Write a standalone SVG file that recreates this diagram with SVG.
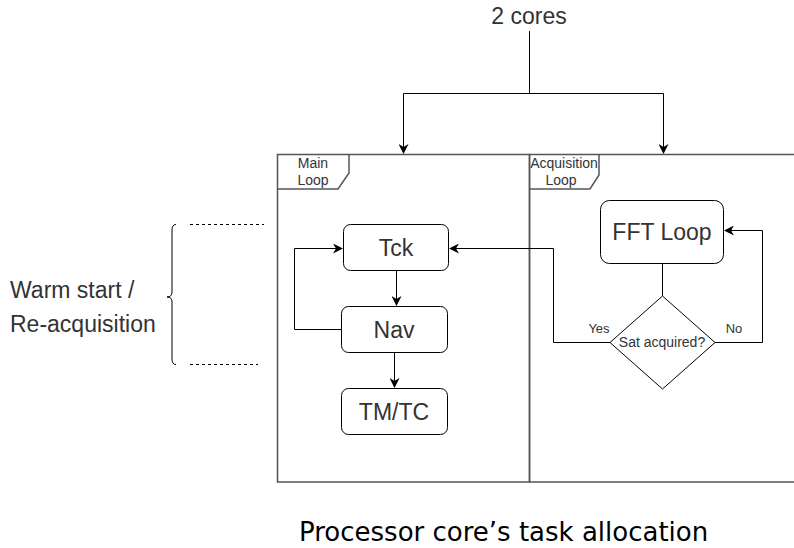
<svg xmlns="http://www.w3.org/2000/svg" width="794" height="548" viewBox="0 0 794 548">
  <defs>
    <marker id="arrow" viewBox="0 0 10 10" refX="9" refY="5" markerWidth="10" markerHeight="10" markerUnits="userSpaceOnUse" orient="auto">
      <path d="M0,0 L10,5 L0,10 L3,5 Z" fill="#000"/>
    </marker>
    <style>
      text { font-family: "Liberation Sans", Arial, sans-serif; fill: #333; }
      .big { font-size: 23px; }
      .tab { font-size: 14px; }
      .small { font-size: 13px; }
      .cap { font-family: "DejaVu Sans", Verdana, sans-serif; font-size: 26px; fill: #000; }
      .frame { fill: none; stroke: #555; stroke-width: 1.5; }
      .box { fill: #fff; stroke: #000; stroke-width: 1; }
      .wire { fill: none; stroke: #000; stroke-width: 1; }
      .dash { fill: none; stroke: #000; stroke-width: 1; stroke-dasharray: 3 3; }
    </style>
  </defs>
  <rect width="794" height="548" fill="#fff"/>

  <!-- header -->
  <g id="cores">
    <text class="big" x="529" y="24" text-anchor="middle">2 cores</text>
  </g>

  <!-- UML frames for the two cores -->
  <g id="main-loop-frame">
    <rect class="frame" x="277.5" y="154.5" width="252" height="327.5"/>
    <path class="frame" d="M277.5,189 H338 L349,173 V154.5"/>
    <text class="tab" x="313" y="168" text-anchor="middle">Main</text>
    <text class="tab" x="313" y="185" text-anchor="middle">Loop</text>
  </g>
  <g id="acquisition-loop-frame">
    <rect class="frame" x="529.5" y="154.5" width="266" height="327.5"/>
    <path class="frame" d="M529.5,189 H590 L599,175 V154.5"/>
    <text class="tab" x="564" y="168" text-anchor="middle">Acquisition</text>
    <text class="tab" x="561" y="185" text-anchor="middle">Loop</text>
  </g>

  <!-- task nodes -->
  <g id="tck">
    <rect class="box" x="343.5" y="224.5" width="105" height="46" rx="7"/>
    <text class="big" x="396" y="256" text-anchor="middle">Tck</text>
  </g>
  <g id="nav">
    <rect class="box" x="341.5" y="306.5" width="106" height="46" rx="7"/>
    <text class="big" x="394" y="338" text-anchor="middle">Nav</text>
  </g>
  <g id="tmtc">
    <rect class="box" x="341.5" y="388.5" width="106" height="46" rx="7"/>
    <text class="big" x="394" y="420" text-anchor="middle">TM/TC</text>
  </g>
  <g id="fft-loop">
    <rect class="box" x="600.5" y="200.5" width="123" height="63" rx="9"/>
    <text class="big" x="662" y="240" text-anchor="middle">FFT Loop</text>
  </g>
  <g id="sat-acquired">
    <path class="box" d="M662.5,296 L715,342.5 L662.5,389 L610,342.5 Z"/>
    <text class="tab" x="662" y="347" text-anchor="middle">Sat acquired?</text>
  </g>

  <!-- warm start bracket -->
  <g id="warm-start">
    <path class="wire" d="M176,224.5 Q172,224.5 172,230 V292 Q172,297 167,297 Q172,297 172,302 V359 Q172,364.5 176,364.5"/>
    <line class="dash" x1="190" y1="224.5" x2="264" y2="224.5"/>
    <line class="dash" x1="190" y1="364.5" x2="258" y2="364.5"/>
    <text class="big" x="10" y="298">Warm start /</text>
    <text class="big" x="10" y="332">Re-acquisition</text>
  </g>

  <!-- connectors -->
  <g id="connectors">
    <path class="wire" d="M529.5,31 V93.5 H403.5 V153" marker-end="url(#arrow)"/>
    <path class="wire" d="M529.5,93.5 H663.5 V153" marker-end="url(#arrow)"/>
    <path class="wire" d="M396.5,271 V305" marker-end="url(#arrow)"/>
    <path class="wire" d="M394.5,353 V387" marker-end="url(#arrow)"/>
    <path class="wire" d="M341,329.5 H294.5 V248.5 H342" marker-end="url(#arrow)"/>
    <path class="wire" d="M610,342.5 H553.5 V248.5 H450" marker-end="url(#arrow)"/>
    <path class="wire" d="M662.5,264 V296"/>
    <path class="wire" d="M715,342.5 H762.5 V230.5 H725" marker-end="url(#arrow)"/>
    <text class="small" x="599" y="333" text-anchor="middle">Yes</text>
    <text class="small" x="734" y="333" text-anchor="middle">No</text>
  </g>

  <!-- caption -->
  <text class="cap" x="299" y="541">Processor core’s task allocation</text>
</svg>
